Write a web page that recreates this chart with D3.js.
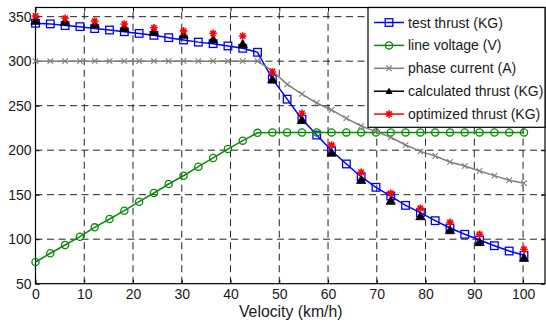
<!DOCTYPE html>
<html><head><meta charset="utf-8">
<script src="https://cdn.jsdelivr.net/npm/d3@7"></script>
<style>html,body{margin:0;padding:0;background:#fff;}svg{display:block;font-family:"Liberation Sans",Arial,sans-serif;}</style>
</head><body>
<svg id="chart" width="546" height="324"></svg>
<script>
const velocity = [0, 3.04, 6.07, 9.11, 12.14, 15.18, 18.22, 21.25, 24.29, 27.32, 30.36, 33.4, 36.43, 39.47, 42.5, 45.54, 48.58, 51.61, 54.65, 57.68, 60.72, 63.76, 66.79, 69.83, 72.86, 75.9, 78.94, 81.97, 85.01, 88.04, 91.08, 94.12, 97.15, 100.19];
const testThrust = [342.6, 341.9, 340, 338.8, 336.6, 335, 333.1, 331.2, 329, 326.4, 323.8, 321.4, 319.7, 317.1, 314.5, 310, 280.1, 257.3, 234.8, 217, 199.4, 184.5, 170.2, 158.3, 148.5, 138, 129.8, 120.8, 112.6, 105.5, 99.1, 92.7, 86.7, 81.9];
const lineVoltage = [74.4, 84.2, 93.5, 102.8, 113.3, 122.7, 132, 142.1, 151.9, 162, 171.3, 181.5, 191.3, 201.3, 210.7, 219.5, 220, 220, 220, 220, 220, 220, 220, 220, 220, 220, 220, 220, 220, 220, 220, 220, 220, 220];
const phaseCurrent = [300, 300, 300, 300, 300, 300, 300, 300, 300, 300, 300, 300, 300, 300, 300, 300, 289, 274, 263.1, 253, 245.2, 235.8, 227.2, 220.8, 214.5, 205.8, 198.7, 193.5, 186.7, 182.2, 176.6, 171.4, 166.2, 162.8];
const calcVelocity = [0, 6.07, 12.14, 18.22, 24.29, 30.36, 36.43, 42.5, 48.58, 54.65, 60.72, 66.79, 72.86, 78.94, 85.01, 91.08, 100.19];
const calculatedThrust = [345.5, 344.4, 341.8, 337.6, 333.1, 329.8, 324.6, 319.3, 279.6, 234, 197.3, 166.8, 143.3, 126, 110.3, 96.9, 79.2];
const optimizedThrust = [350.8, 348.2, 345.2, 341.8, 337.6, 334, 331.3, 328.3, 287.9, 241.5, 205.8, 175.2, 151.6, 134.7, 119, 105.5, 88.7];
const xTicks = [0, 10, 20, 30, 40, 50, 60, 70, 80, 90, 100];
const yTicks = [50, 100, 150, 200, 250, 300, 350];
const seriesNames = ["test thrust (KG)", "line voltage (V)", "phase current (A)", "calculated thrust (KG)", "optimized thrust (KG)"];

const L = 35.5, R = 545, T = 7.5, B = 283.7;
const svg = d3.select("#chart");
const x = d3.scaleLinear().domain([0, 104.5]).range([L, R]);
const y = d3.scaleLinear().domain([50, 360.3]).range([B, T]);

// grid
const grid = svg.append("g").attr("stroke", "#222").attr("stroke-width", 1).attr("stroke-dasharray", "7,4.5");
xTicks.forEach(t => { if (t > 0) grid.append("line").attr("x1", x(t)).attr("x2", x(t)).attr("y1", B).attr("y2", T); });
yTicks.forEach(t => { if (t > 50) grid.append("line").attr("y1", y(t)).attr("y2", y(t)).attr("x1", L).attr("x2", R); });

// axes
const xAx = svg.append("g").attr("transform", `translate(0,${B})`)
  .call(d3.axisBottom(x).tickValues(xTicks).tickSize(-4).tickPadding(5.5).tickFormat(d3.format("d")));
const yAx = svg.append("g").attr("transform", `translate(${L},0)`)
  .call(d3.axisLeft(y).tickValues(yTicks).tickSize(-4).tickPadding(4).tickFormat(d3.format("d")));
svg.append("g").attr("transform", `translate(0,${T})`).call(d3.axisTop(x).tickValues(xTicks).tickSize(-4).tickFormat(""));
svg.append("g").attr("transform", `translate(${R},0)`).call(d3.axisRight(y).tickValues(yTicks).tickSize(-4).tickFormat(""));
svg.selectAll(".domain").remove();
svg.selectAll(".tick line").attr("stroke", "#000");
[xAx, yAx].forEach(a => a.selectAll("text").attr("font-size", 14).attr("fill", "#1a1a1a").attr("font-family", "Liberation Sans, Arial, sans-serif"));
svg.append("rect").attr("x", L).attr("y", T).attr("width", R - L).attr("height", B - T)
  .attr("fill", "none").attr("stroke", "#000").attr("stroke-width", 1.2);

svg.append("text").attr("x", (L + R) / 2 + 0.5).attr("y", 317).attr("text-anchor", "middle")
  .attr("font-size", 15.8).attr("fill", "#1a1a1a").text("Velocity (km/h)");

// lines
const line = d3.line().x(d => x(d[0])).y(d => y(d[1]));
const blue = "#0000ff", green = "#0a8a0a", grey = "#7f7f7f", red = "#ff0000";
const zip = (a, b) => a.map((v, i) => [v, b[i]]);
const tData = zip(velocity, testThrust), vData = zip(velocity, lineVoltage), cData = zip(velocity, phaseCurrent);
const kData = zip(calcVelocity, calculatedThrust), oData = zip(calcVelocity, optimizedThrust);

function sq(g, cx, cy, color) {
  g.append("rect").attr("x", cx - 3.8).attr("y", cy - 3.8).attr("width", 7.6).attr("height", 7.6)
    .attr("fill", "none").attr("stroke", color).attr("stroke-width", 1.3);
}
function circ(g, cx, cy, color) {
  g.append("circle").attr("cx", cx).attr("cy", cy).attr("r", 3.6).attr("fill", "none").attr("stroke", color).attr("stroke-width", 1.3);
}
function cross(g, cx, cy, color) {
  const s = 2.8;
  g.append("path").attr("d", `M${cx - s},${cy - s}L${cx + s},${cy + s}M${cx - s},${cy + s}L${cx + s},${cy - s}`)
    .attr("stroke", color).attr("stroke-width", 1.1).attr("fill", "none");
}
function tri(g, cx, cy, color) {
  const s = 4.6;
  g.append("path").attr("d", `M${cx},${cy - s}L${cx + s},${cy + s * 0.8}L${cx - s},${cy + s * 0.8}Z`).attr("fill", color).attr("stroke", color).attr("stroke-width", 0.8);
}
function star(g, cx, cy, color) {
  const s = 3.8, d = 2.7;
  g.append("path").attr("d", `M${cx - s},${cy}L${cx + s},${cy}M${cx},${cy - s}L${cx},${cy + s}M${cx - d},${cy - d}L${cx + d},${cy + d}M${cx - d},${cy + d}L${cx + d},${cy - d}`)
    .attr("stroke", color).attr("stroke-width", 1.6).attr("fill", "none");
}

const plot = svg.append("g");
plot.append("path").datum(tData).attr("d", line).attr("fill", "none").attr("stroke", blue).attr("stroke-width", 1.5);
tData.forEach(d => sq(plot, x(d[0]), y(d[1]), blue));
plot.append("path").datum(vData).attr("d", line).attr("fill", "none").attr("stroke", green).attr("stroke-width", 1.5);
vData.forEach(d => circ(plot, x(d[0]), y(d[1]), green));
plot.append("path").datum(cData).attr("d", line).attr("fill", "none").attr("stroke", grey).attr("stroke-width", 1.5);
cData.forEach(d => cross(plot, x(d[0]), y(d[1]), grey));
kData.forEach(d => tri(plot, x(d[0]), y(d[1]), "#000"));
oData.forEach(d => star(plot, x(d[0]), y(d[1]), red));

// legend
const lg = svg.append("g");
lg.append("rect").attr("x", 368).attr("y", T).attr("width", R - 368).attr("height", 127.3 - T)
  .attr("fill", "#fff").attr("stroke", "#000").attr("stroke-width", 1.2);
const colors = [blue, green, grey, "#000", red];
const markers = [sq, circ, cross, tri, star];
seriesNames.forEach((n, i) => {
  const yy = 22.5 + i * 22.9;
  lg.append("line").attr("x1", 374).attr("x2", 404).attr("y1", yy).attr("y2", yy).attr("stroke", colors[i]).attr("stroke-width", 1.5);
  const mg = lg.append("g");
  if (i === 3) { const s = 3.6; mg.append("path").attr("d", `M389,${yy - s}L${389 + s},${yy + s * 0.8}L${389 - s},${yy + s * 0.8}Z`).attr("fill", "#000"); }
  else if (i === 4) { star(mg, 389, yy, red); }
  else markers[i](mg, 389, yy, colors[i]);
  lg.append("text").attr("x", 408).attr("y", yy + 5).attr("font-size", 14).attr("fill", "#1a1a1a").text(n);
});
</script>
</body></html>
